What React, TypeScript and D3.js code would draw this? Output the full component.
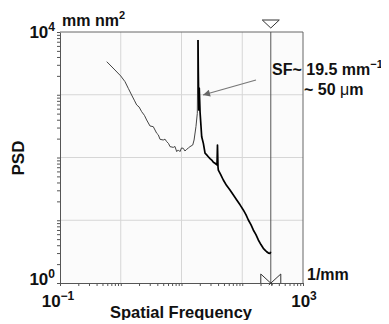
import React, { useRef, useEffect } from "react";
import * as d3 from "d3";

// spatial frequency (1/mm) and PSD (mm nm^2)
const lowFreq = [0.588, 0.803, 1.0, 1.175, 1.33, 1.51, 1.67, 1.83, 2.0, 2.21, 2.45, 2.67, 3.03, 3.43, 3.91, 4.15, 4.43, 5.01, 5.35, 5.7, 6.1, 6.47, 7.33, 7.8, 8.34, 8.85, 9.44, 10, 10.7, 11.4, 12.2, 13.0, 13.8, 15.3, 16.1, 17.3, 18.2, 18.7];
const lowPsd = [3365, 2480, 1990, 1615, 1267, 991, 820, 687, 640, 537, 470, 396, 318, 310, 243, 230, 195, 190, 196, 179, 168, 149, 145, 150, 124, 132, 124, 142, 140, 127, 135, 142, 149, 158, 190, 310, 506, 7460];

const highFreq = [18.7, 18.9, 19.3, 19.6, 20.2, 21.5, 22.9, 24.4, 26.0, 27.6, 29.5, 31.4, 33.5, 35.6, 38.4, 39.1, 39.9, 40.4, 44.0, 48.8, 55.0, 62.8, 71.0, 81.1, 92.0, 104, 115, 126, 139, 152, 168, 184, 203, 222, 237, 252, 270, 286, 294];
const highPsd = [7460, 2400, 572, 1281, 531, 214, 168, 117, 110, 103, 96, 91, 84, 81, 76, 158, 70.6, 63, 54, 43.8, 36, 30.3, 25.5, 21.0, 17.6, 14.6, 12.3, 10.1, 8.5, 7.0, 5.9, 4.85, 4.1, 3.57, 3.35, 3.15, 3.0, 2.97, 3.15];

const xDomain = [0.1, 1000];
const yDomain = [1, 10000];
const markerFreq = 295;

export default function App() {
  const ref = useRef<SVGSVGElement>(null);

  useEffect(() => {
    const width = 389;
    const height = 324;
    const margin = { top: 32, right: 86, bottom: 41, left: 60 };
    const font = "'Liberation Sans', Arial, Helvetica, sans-serif";

    const svg = d3.select(ref.current);
    svg.selectAll("*").remove();
    svg.attr("width", width).attr("height", height);

    const x = d3.scaleLog().domain(xDomain).range([margin.left, width - margin.right]);
    const y = d3.scaleLog().domain(yDomain).range([height - margin.bottom, margin.top]);

    // plot background
    svg.append("rect")
      .attr("x", margin.left).attr("y", margin.top)
      .attr("width", x(1000) - x(0.1)).attr("height", y(1) - y(10000))
      .attr("fill", "#fbfbfb");

    // decade grid
    const decX = [1, 10, 100];
    const decY = [10, 100, 1000];
    svg.append("g").selectAll("line").data(decX).enter().append("line")
      .attr("x1", d => x(d)).attr("x2", d => x(d))
      .attr("y1", y(1)).attr("y2", y(10000))
      .attr("stroke", "#d6d6d6").attr("stroke-width", 1);
    svg.append("g").selectAll("line").data(decY).enter().append("line")
      .attr("y1", d => y(d)).attr("y2", d => y(d))
      .attr("x1", x(0.1)).attr("x2", x(1000))
      .attr("stroke", "#d6d6d6").attr("stroke-width", 1);

    // minor log ticks
    const ticksFor = (lo: number, hi: number) => {
      const out: number[] = [];
      for (let e = lo; e < hi; e++) for (let m = 1; m < 10; m++) out.push(m * Math.pow(10, e));
      out.push(Math.pow(10, hi));
      return out;
    };

    const xAxis = svg.append("g")
      .attr("transform", `translate(0,${y(1)})`)
      .call(d3.axisBottom(x).tickValues(ticksFor(-1, 3)).tickFormat(() => "").tickSize(3).tickSizeOuter(0));
    const yAxis = svg.append("g")
      .attr("transform", `translate(${x(0.1)},0)`)
      .call(d3.axisLeft(y).tickValues(ticksFor(0, 4)).tickFormat(() => "").tickSize(3).tickSizeOuter(0));
    [xAxis, yAxis].forEach(g => {
      g.selectAll("line").attr("stroke", "#555");
      g.select(".domain").attr("stroke", "#555");
    });

    // frame top & right
    svg.append("path")
      .attr("d", `M${x(0.1)},${y(10000)}H${x(1000)}V${y(1)}`)
      .attr("fill", "none").attr("stroke", "#666").attr("stroke-width", 1);

    // marker line
    const mx = x(markerFreq);
    svg.append("line")
      .attr("x1", mx).attr("x2", mx).attr("y1", y(10000)).attr("y2", y(1))
      .attr("stroke", "#555").attr("stroke-width", 1);
    svg.append("path")
      .attr("d", `M${mx - 8.5},${y(10000) - 12}H${mx + 8.5}L${mx},${y(10000) - 4}Z`)
      .attr("fill", "white").attr("stroke", "#333").attr("stroke-width", 1);
    const b = y(1);
    svg.append("path")
      .attr("d", `M${mx - 10},${b}V${b - 9}L${mx + 2},${b + 2}M${mx + 10},${b}V${b - 9}L${mx - 2},${b + 2}`)
      .attr("fill", "none").attr("stroke", "#333").attr("stroke-width", 1);

    // curve
    const line = d3.line<[number, number]>().x(d => x(d[0])).y(d => y(d[1]));
    svg.append("path")
      .datum(lowFreq.map((f, i) => [f, lowPsd[i]] as [number, number]))
      .attr("d", line)
      .attr("fill", "none").attr("stroke", "#444").attr("stroke-width", 1);
    svg.append("path")
      .datum(highFreq.map((f, i) => [f, highPsd[i]] as [number, number]))
      .attr("d", line)
      .attr("fill", "none").attr("stroke", "#000").attr("stroke-width", 1.7)
      .attr("stroke-linejoin", "round");

    // arrow
    svg.append("defs").append("marker")
      .attr("id", "ah").attr("viewBox", "0 0 10 10").attr("refX", 10).attr("refY", 5)
      .attr("markerWidth", 10).attr("markerHeight", 7).attr("markerUnits", "userSpaceOnUse")
      .attr("orient", "auto")
      .append("path").attr("d", "M0,0L10,5L0,10Z").attr("fill", "#666");
    svg.append("line")
      .attr("x1", 256).attr("y1", 80).attr("x2", 203).attr("y2", 95)
      .attr("stroke", "#777").attr("stroke-width", 1.2).attr("marker-end", "url(#ah)");

    const txt = (px: number, py: number, anchor = "start", size = 17) =>
      svg.append("text").attr("x", px).attr("y", py).attr("text-anchor", anchor)
        .attr("font-family", font).attr("font-weight", "bold").attr("font-size", size).attr("fill", "#111");

    const pow = (px: number, py: number, base: string, exp: string, anchor: string) => {
      const t = txt(px, py, anchor);
      t.append("tspan").text(base);
      t.append("tspan").attr("font-size", 12).attr("dy", -7).text(exp);
    };

    pow(55, y(10000) + 6, "10", "4", "end");
    pow(55, y(1) + 2, "10", "0", "end");
    pow(x(0.1) - 2, 307, "10", "\u22121", "middle");
    pow(x(1000) + 1, 307, "10", "3", "middle");

    const unitY = txt(62, 26, "start", 16);
    unitY.append("tspan").text("mm nm");
    unitY.append("tspan").attr("font-size", 11).attr("dy", -7).text("2");

    txt(307, 280, "start", 16).text("1/mm");

    txt(181, 318, "middle", 16.5).text("Spatial Frequency");
    txt(0, 0, "middle", 17).attr("transform", `translate(24,158) rotate(-90)`).text("PSD");

    const sf = txt(272, 75, "start", 16);
    sf.append("tspan").text("SF~ 19.5 mm");
    sf.append("tspan").attr("font-size", 11).attr("dy", -7).text("\u22121");
    const um = txt(304, 95, "start", 16);
    um.append("tspan").text("~ 50 ");
    um.append("tspan").attr("font-weight", "normal").text("\u03bc");
    um.append("tspan").text("m");
  }, []);

  return (
    <div style={{ margin: -8 }}>
      <svg ref={ref}></svg>
    </div>
  );
}
